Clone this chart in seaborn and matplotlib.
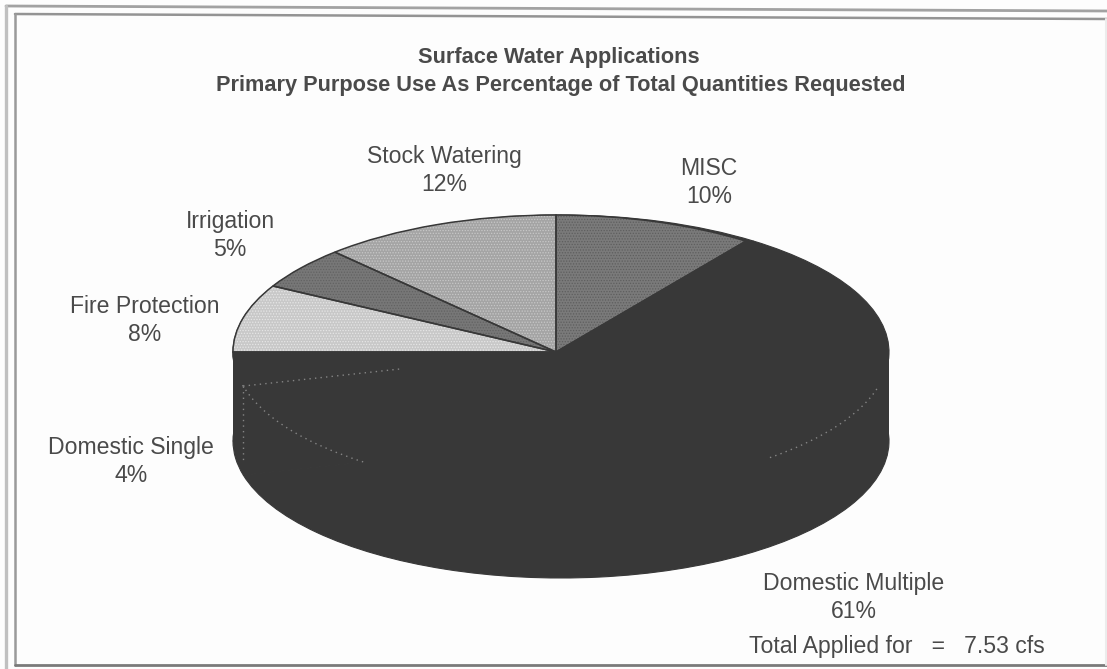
import numpy as np
import matplotlib
matplotlib.use("Agg")
import matplotlib.pyplot as plt
from matplotlib.patches import Arc, Rectangle
from matplotlib.lines import Line2D
import seaborn as sns

# Share of total quantity requested, clockwise from twelve o'clock
purposes = ["MISC", "Domestic Multiple", "Domestic Single",
            "Fire Protection", "Irrigation", "Stock Watering"]
shares = [10, 61, 4, 8, 5, 12]
slice_greys = ["#7a7a7a", "#383838", "#383838", "#c8c8c8", "#777777", "#a4a4a4"]
stipple_greys = ["#5e5e5e", "#383838", "#383838", "#e6e6e6", "#626262", "#c8c8c8"]

title_lines = ["Surface Water Applications",
               "Primary Purpose Use As Percentage of Total Quantities Requested"]
total_note = "Total Applied for   =   7.53 cfs"

sns.set_theme(style="white")
plt.rcParams["font.family"] = ["Liberation Sans", "DejaVu Sans"]
plt.rcParams["hatch.linewidth"] = 0.6

W, H = 1107, 669
fig = plt.figure(figsize=(W / 100, H / 100), dpi=100, facecolor="#fdfdfd")

DARK = "#383838"
TEXT = "#4a4a4a"
pie_style = dict(startangle=90, counterclock=False, radius=1)


def pie_axes(cx, cy, rx, ry):
    """Full-figure axes in which a unit pie lands on the given pixel ellipse."""
    ax = fig.add_axes([0, 0, 1, 1])
    ax.patch.set_alpha(0)
    return ax, (-cx / rx, (W - cx) / rx), (-(H - cy) / ry, cy / ry)


def finish(ax, xlim, ylim):
    ax.set_aspect("auto")
    ax.set_xlim(*xlim)
    ax.set_ylim(*ylim)
    ax.set_axis_off()


# Extruded body: upper and lower discs joined by a filled band
body, bx, by = pie_axes(561, 352, 328, 137)
depth = 89 / 137
for level in (0, -depth):
    body.pie(shares, colors=[DARK] * len(shares), center=(0, level),
             wedgeprops=dict(linewidth=0.8, edgecolor=DARK), **pie_style)
body.add_patch(Rectangle((-1, -depth), 2, depth, facecolor=DARK, edgecolor="none", zorder=1.5))
finish(body, bx, by)

# Top face with a printed stipple, then the slice outlines
ax, tx, ty = pie_axes(556, 352, 323, 137)
top, _ = ax.pie(shares, colors=slice_greys, wedgeprops=dict(linewidth=0), **pie_style)
for wedge, stipple, grey in zip(top, stipple_greys, slice_greys):
    if stipple != grey:
        wedge.set_hatch("......")
        wedge.set_edgecolor(stipple)
outline, _ = ax.pie(shares, colors=["none"] * len(shares),
                    wedgeprops=dict(linewidth=1.1, edgecolor=DARK), **pie_style)
for wedge in outline:
    wedge.set_zorder(3)

# Traces of the rim and the small slice that show through the dark ink
TRACE = dict(color="#858585", linewidth=1.0, linestyle=(0, (1, 3)), zorder=4)
ax.add_patch(Arc((0, 0), 2, 2, theta1=194, theta2=234, **TRACE))
ax.add_patch(Arc((5 / 323, 0), 2 * 328 / 323, 2, theta1=310, theta2=346, **TRACE))
edge = np.deg2rad(90 - 3.6 * sum(shares[:2]))
ex, ey = np.cos(edge), np.sin(edge)
ax.plot([ex, ex * 0.5], [ey, ey * 0.5], **TRACE)
ax.plot([ex, ex], [ey, ey - 0.56], **TRACE)
finish(ax, tx, ty)


def px_text(x, y, s, **kw):
    # y is the middle of the capitals; anchoring on the baseline keeps
    # descenders from shifting a line
    fig.text(x / W, 1 - (y + kw["fontsize"] * 0.46) / H, s,
             ha="center", va="baseline", color=TEXT, **kw)


px_text(559, 56, title_lines[0], fontsize=15.7, fontweight="bold")
px_text(561, 84, title_lines[1], fontsize=15.7, fontweight="bold")

label_pos = {
    "MISC": (709, 167),
    "Domestic Multiple": (854, 582),
    "Domestic Single": (131, 446),
    "Fire Protection": (145, 305),
    "Irrigation": (230, 220),
    "Stock Watering": (444, 155),
}
LABEL_SIZE = 16.6
for name, share in zip(purposes, shares):
    x, y = label_pos[name]
    px_text(x, y, name, fontsize=LABEL_SIZE)
    px_text(x, y + 28, f"{share}%", fontsize=LABEL_SIZE)
px_text(897, 645, total_note, fontsize=LABEL_SIZE)

# Double frame around the printed figure
for x0, y0, x1, y1, col, lw in [(6, 6, 1107, 11, "#a2a2a2", 2.0),
                                (6, 6, 6, 669, "#c0c0c0", 2.4),
                                (15, 14, 1107, 19, "#949494", 1.8),
                                (15, 14, 15, 665, "#9a9a9a", 1.8),
                                (15, 665, 1107, 665, "#7a7a7a", 2.0),
                                (1106, 19, 1106, 665, "#ececec", 1.5)]:
    fig.add_artist(Line2D([x0 / W, x1 / W], [1 - y0 / H, 1 - y1 / H], color=col, linewidth=lw))

fig.savefig("out.png", dpi=100, facecolor=fig.get_facecolor())
